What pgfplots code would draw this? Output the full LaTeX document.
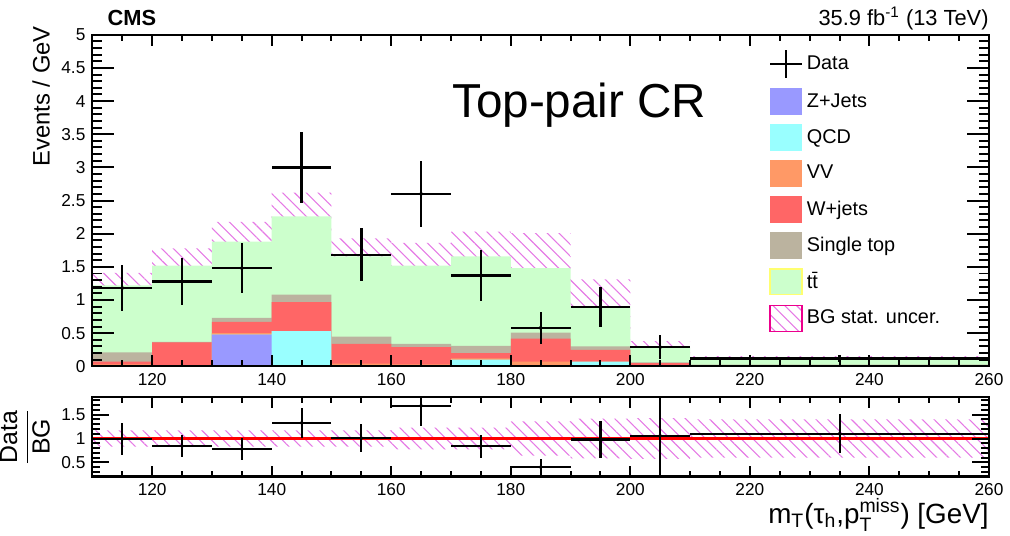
\documentclass[border=0pt]{standalone}
\usepackage{fontspec}
\setmainfont{Liberation Sans}
\usepackage{amsmath}
\usepackage{pgfplots}
\pgfplotsset{compat=1.18}
\usepackage{pgfplotstable}
\usepgfplotslibrary{fillbetween}
\usetikzlibrary{patterns.meta}

\definecolor{czj}{HTML}{9999FF}
\definecolor{cqcd}{HTML}{99FFFF}
\definecolor{cvv}{HTML}{FF9966}
\definecolor{cwj}{HTML}{FF6666}
\definecolor{cst}{HTML}{BBB39F}
\definecolor{ctt}{HTML}{CCFFCC}
\definecolor{cttl}{HTML}{FFFF70}
\definecolor{chatch}{HTML}{E57AE5}

% cumulative stack tops (bottom to top: Z+Jets, QCD, VV, W+jets, Single top, ttbar)
\pgfplotstableread{
x   z    q    vv   w    st    tt
110 0.02 0.02 0.03 0.07 0.21  1.22
120 0.01 0.01 0.02 0.36 0.37  1.52
130 0.48 0.48 0.50 0.67 0.73  1.88
140 0.01 0.53 0.53 0.97 1.08  2.26
150 0.01 0.01 0.04 0.34 0.45  1.66
160 0.00 0.02 0.03 0.29 0.34  1.52
170 0.00 0.10 0.12 0.20 0.31  1.66
180 0.00 0.00 0.07 0.42 0.51  1.48
190 0.00 0.07 0.07 0.25 0.30  0.91
200 0.00 0.00 0.01 0.05 0.06  0.28
210 0.00 0.00 0.01 0.02 0.025 0.115
260 0.00 0.00 0.01 0.02 0.025 0.115
}\stack

\pgfplotstableread{
x   lo    hi
110 1.03  1.41
120 1.26  1.78
130 1.58  2.18
140 1.90  2.62
150 1.39  1.93
160 1.18  1.86
170 1.29  2.03
180 0.95  2.01
190 0.51  1.31
200 0.18  0.38
210 0.075 0.155
260 0.075 0.155
}\band

\pgfplotstableread{
x   y    ex ey
115 1.18 5  0.35
125 1.28 5  0.36
135 1.48 5  0.38
145 3.00 5  0.53
155 1.68 5  0.40
165 2.60 5  0.50
175 1.37 5  0.38
185 0.58 5  0.24
195 0.89 5  0.30
205 0.29 5  0.18
235 0.12 25 0.05
}\data

\pgfplotstableread{
x   lo   hi
110 0.83 1.17
120 0.83 1.17
130 0.83 1.17
140 0.83 1.17
150 0.83 1.17
160 0.77 1.23
170 0.77 1.23
180 0.64 1.36
190 0.58 1.42
200 0.57 1.43
210 0.60 1.40
260 0.60 1.40
}\rband

\pgfplotstableread{
x   y    ex ey
115 0.99 5  0.33
125 0.84 5  0.23
135 0.78 5  0.24
145 1.33 5  0.31
155 1.01 5  0.29
165 1.69 5  0.42
175 0.84 5  0.24
185 0.40 5  0.16
195 0.98 5  0.39
205 1.06 5  0.75
235 1.10 25 0.41
}\ratio

\pgfplotsset{
  legbox/.style={legend image code/.code={\draw[##1] (0pt,-6.5pt) rectangle (16pt,6.5pt);}},
  legcross/.style={legend image code/.code={\draw[##1] (0pt,0pt)--(16pt,0pt) (8pt,-7pt)--(8pt,7pt);}},
  hatchpat/.style={pattern={Lines[angle=-45,distance=4.2pt,line width=0.55pt]}, pattern color=chatch},
  cmsaxis/.style={
    scale only axis, width=451.5pt,
    xmin=110, xmax=260, axis on top,
    xtick={120,140,...,260},
    tick align=inside,
    major tick length=0pt, minor tick length=0pt,
    axis line style={line width=1.1pt},
    tick label style={font=\fontsize{8.7}{10}\selectfont},
    /pgf/number format/assume math mode=true,
  },
}
\tikzset{tk/.style={draw=black, line width=1pt}}

\begin{document}
\begin{tikzpicture}

\begin{axis}[cmsaxis, at={(0,0)}, anchor=south west, height=167pt,
  ymin=0, ymax=5, ytick={0,0.5,...,5},
  legend style={at={(rel axis cs:0.7475,0.97)}, anchor=north west, draw=none, fill=none,
    font=\fontsize{10}{12}\selectfont, row sep=4.7pt},
  legend cell align=left,
]
\addlegendimage{legcross, black, line width=1.1pt}
\addlegendentry{Data}
\addlegendimage{legbox, fill=czj, draw=czj}
\addlegendentry{Z+Jets}
\addlegendimage{legbox, fill=cqcd, draw=cqcd}
\addlegendentry{QCD}
\addlegendimage{legbox, fill=cvv, draw=cvv}
\addlegendentry{VV}
\addlegendimage{legbox, fill=cwj, draw=cwj}
\addlegendentry{W+jets}
\addlegendimage{legbox, fill=cst, draw=cst}
\addlegendentry{Single top}
\addlegendimage{legbox, fill=ctt, draw=cttl, line width=0.8pt}
\addlegendentry{t\={t}}
\addlegendimage{legbox, hatchpat, draw=magenta, line width=0.8pt}
\addlegendentry{BG stat. uncer.}

\addplot[const plot, fill=ctt, draw=none, forget plot] table[x=x,y=tt]{\stack} \closedcycle;
\addplot[const plot, fill=cst, draw=none, forget plot] table[x=x,y=st]{\stack} \closedcycle;
\addplot[const plot, fill=cwj, draw=none, forget plot] table[x=x,y=w]{\stack} \closedcycle;
\addplot[const plot, fill=cvv, draw=none, forget plot] table[x=x,y=vv]{\stack} \closedcycle;
\addplot[const plot, fill=cqcd, draw=none, forget plot] table[x=x,y=q]{\stack} \closedcycle;
\addplot[const plot, fill=czj, draw=none, forget plot] table[x=x,y=z]{\stack} \closedcycle;

\addplot[const plot, draw=none, name path=bup, forget plot] table[x=x,y=hi]{\band};
\addplot[const plot, draw=none, name path=blo, forget plot] table[x=x,y=lo]{\band};
\addplot[hatchpat, draw=none, forget plot] fill between[of=bup and blo];

\addplot[black, only marks, mark=*, mark size=0.9pt, forget plot,
  error bars/.cd, x dir=both, x explicit, y dir=both, y explicit, error mark=none,
  error bar style={line width=1.15pt, black}]
  table[x=x,y=y,x error=ex,y error=ey]{\data};
\end{axis}

\begin{axis}[cmsaxis, at={(0,-55.5pt)}, anchor=south west, height=40pt,
  ymin=0.2, ymax=1.87, ytick={0.5,1,1.5},
]
\addplot[const plot, draw=none, name path=rup, forget plot] table[x=x,y=hi]{\rband};
\addplot[const plot, draw=none, name path=rlo, forget plot] table[x=x,y=lo]{\rband};
\addplot[hatchpat, draw=none, forget plot] fill between[of=rup and rlo];
\addplot[red, line width=1.3pt, forget plot] coordinates {(110,1) (260,1)};
\addplot[black, only marks, mark=*, mark size=0.8pt, forget plot,
  error bars/.cd, x dir=both, x explicit, y dir=both, y explicit, error mark=none,
  error bar style={line width=1.05pt, black}]
  table[x=x,y=y,x error=ex,y error=ey]{\ratio};
\end{axis}

% tick marks (ROOT style, inside, on all four sides)
\foreach \v in {110,115,...,260}{
  \draw[tk] ({(\v-110)*3.01pt},0pt) -- ++(0,3pt);
  \draw[tk] ({(\v-110)*3.01pt},167pt) -- ++(0,-3pt);
  \draw[tk] ({(\v-110)*3.01pt},-55.5pt) -- ++(0,3pt);
  \draw[tk] ({(\v-110)*3.01pt},-15.5pt) -- ++(0,-3pt);
}
\foreach \v in {120,140,...,260}{
  \draw[tk] ({(\v-110)*3.01pt},0pt) -- ++(0,5.5pt);
  \draw[tk] ({(\v-110)*3.01pt},167pt) -- ++(0,-5.5pt);
  \draw[tk] ({(\v-110)*3.01pt},-55.5pt) -- ++(0,5.5pt);
  \draw[tk] ({(\v-110)*3.01pt},-15.5pt) -- ++(0,-5.5pt);
}
\foreach \v in {0,0.1,...,5.01}{
  \draw[tk] (0pt,{\v*33.4pt}) -- ++(5pt,0);
  \draw[tk] (451.5pt,{\v*33.4pt}) -- ++(-5pt,0);
}
\foreach \v in {0,0.5,...,5}{
  \draw[tk] (0pt,{\v*33.4pt}) -- ++(11pt,0);
  \draw[tk] (451.5pt,{\v*33.4pt}) -- ++(-11pt,0);
}
\foreach \v in {0.2,0.3,...,1.85}{
  \draw[tk] (0pt,{-55.5pt+(\v-0.2)*23.952pt}) -- ++(4pt,0);
  \draw[tk] (451.5pt,{-55.5pt+(\v-0.2)*23.952pt}) -- ++(-4pt,0);
}
\foreach \v in {0.5,1,1.5}{
  \draw[tk] (0pt,{-55.5pt+(\v-0.2)*23.952pt}) -- ++(8.5pt,0);
  \draw[tk] (451.5pt,{-55.5pt+(\v-0.2)*23.952pt}) -- ++(-8.5pt,0);
}

\node[anchor=base west, inner sep=0pt, font=\bfseries\fontsize{11}{12}\selectfont] at (7.5pt,171.5pt) {CMS};
\node[anchor=base east, inner sep=0pt, font=\fontsize{11}{12}\selectfont] at (451.5pt,171.5pt) {35.9 fb\textsuperscript{-1} (13 TeV)};
\node[anchor=base west, inner sep=0pt, font=\fontsize{24}{26}\selectfont] at (181pt,125.5pt) {Top-pair CR};
\node[rotate=90, anchor=base east, inner sep=0pt, font=\fontsize{12}{14}\selectfont] at (-21.5pt,171.5pt) {Events / GeV};
\node[rotate=90, anchor=center, inner sep=0pt, font=\fontsize{12.5}{14}\selectfont] at (-34pt,-35.5pt) {$\dfrac{\text{Data}}{\text{BG}}$};
\node[anchor=base east, inner sep=0pt, font=\fontsize{14}{16}\selectfont] at (451.5pt,-79pt) {m$_{\text{T}}$(τ$_{\text{h}}$,p$_{\text{T}}^{\text{miss}}$) [GeV]};
\path (-45pt,-85pt) rectangle (460pt,184.5pt);
\end{tikzpicture}
\end{document}
